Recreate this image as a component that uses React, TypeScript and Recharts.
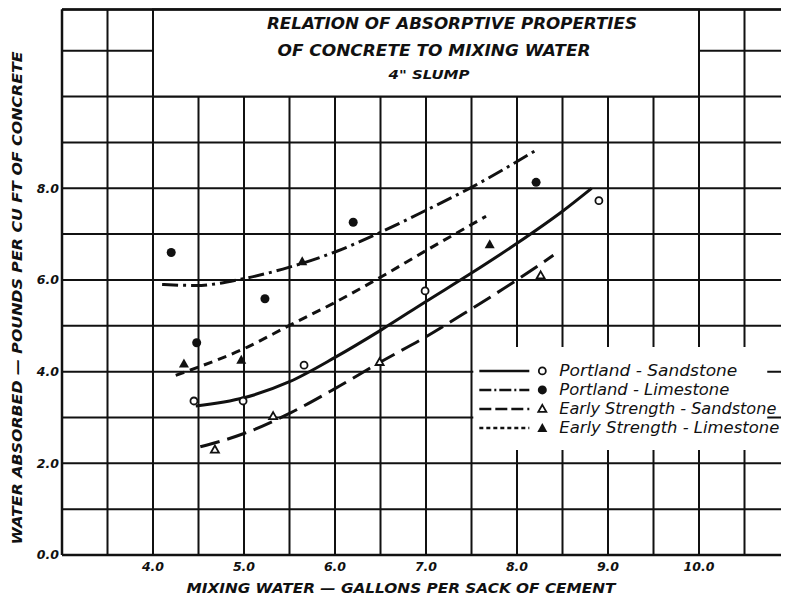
import {
  ComposedChart,
  Line,
  Scatter,
  XAxis,
  YAxis,
  CartesianGrid,
  ReferenceArea,
  Label,
} from "recharts";

// grid ticks (every 0.5 gal, every 1.0 lb)
const xTicks = [3, 3.5, 4, 4.5, 5, 5.5, 6, 6.5, 7, 7.5, 8, 8.5, 9, 9.5, 10, 10.5, 11];
const yTicks = [0, 1, 2, 3, 4, 5, 6, 7, 8, 9, 10, 11];
const xLabelled = [4, 5, 6, 7, 8, 9, 10];
const yLabelled = [0, 2, 4, 6, 8];
const yTop = 11.9; // sheet is trimmed just under the 12.0 line

// test points
const psWater = [4.45, 4.99, 5.66, 6.99, 8.9];
const psAbsorbed = [3.36, 3.36, 4.14, 5.76, 7.73];
const plWater = [4.2, 4.48, 5.23, 6.2, 8.21];
const plAbsorbed = [6.6, 4.63, 5.59, 7.26, 8.13];
const essWater = [4.68, 5.32, 6.49, 8.26];
const essAbsorbed = [2.3, 3.03, 4.21, 6.1];
const eslWater = [4.34, 4.97, 5.64, 7.7];
const eslAbsorbed = [4.18, 4.26, 6.41, 6.78];

// faired curves
const psCurveX = [4.47, 5.0, 5.5, 6.0, 6.5, 7.0, 7.5, 8.0, 8.5, 8.82];
const psCurveY = [3.25, 3.43, 3.78, 4.31, 4.9, 5.53, 6.15, 6.8, 7.5, 8.0];
const plCurveX = [4.1, 4.47, 5.0, 5.5, 6.0, 6.5, 7.0, 7.5, 8.2];
const plCurveY = [5.9, 5.88, 6.03, 6.28, 6.61, 7.04, 7.52, 8.02, 8.82];
const eslCurveX = [4.25, 4.5, 5.0, 5.5, 6.0, 6.5, 7.0, 7.66];
const eslCurveY = [3.92, 4.1, 4.5, 5.01, 5.51, 6.06, 6.64, 7.39];
const essCurveX = [4.52, 5.0, 5.5, 6.0, 6.5, 7.0, 7.5, 8.0, 8.4];
const essCurveY = [2.36, 2.65, 3.09, 3.63, 4.21, 4.76, 5.37, 6.0, 6.54];

const zip = (xs: number[], ys: number[]) => xs.map((x, i) => ({ x, y: ys[i] }));

const INK = "#111";
const LETTER = "'DejaVu Sans', sans-serif";

const styles = {
  ps: { dash: undefined as string | undefined, label: "Portland - Sandstone" },
  pl: { dash: "16 5 3 5", label: "Portland - Limestone" },
  ess: { dash: "20 8", label: "Early Strength - Sandstone" },
  esl: { dash: "9 6", label: "Early Strength - Limestone" },
};

// eslint-disable-next-line @typescript-eslint/no-explicit-any
const OpenCircle = (p: any) => (
  <circle cx={p.cx} cy={p.cy} r={3.5} fill="#fff" stroke={INK} strokeWidth={1.8} />
);
// eslint-disable-next-line @typescript-eslint/no-explicit-any
const DotFilled = (p: any) => <circle cx={p.cx} cy={p.cy} r={4.5} fill={INK} />;
// eslint-disable-next-line @typescript-eslint/no-explicit-any
const OpenTri = (p: any) => (
  <polygon
    points={`${p.cx},${p.cy - 4} ${p.cx + 4},${p.cy + 3} ${p.cx - 4},${p.cy + 3}`}
    fill="#fff"
    stroke={INK}
    strokeWidth={1.8}
  />
);
// eslint-disable-next-line @typescript-eslint/no-explicit-any
const FilledTri = (p: any) => (
  <polygon
    points={`${p.cx},${p.cy - 5} ${p.cx + 5},${p.cy + 4} ${p.cx - 5},${p.cy + 4}`}
    fill={INK}
  />
);

// eslint-disable-next-line @typescript-eslint/no-explicit-any
function TitleBlock(props: any) {
  const vb = props.viewBox || { x: 0, y: 0, width: 0, height: 0 };
  // box runs 4.0 to 10.0, so one unit is width / 6; frame top edge goes full width
  const unit = vb.width / 6;
  const common = {
    fill: INK,
    fontFamily: LETTER,
    fontWeight: 700,
    fontStyle: "italic" as const,
    textAnchor: "middle" as const,
    dominantBaseline: "central" as const,
    lengthAdjust: "spacingAndGlyphs" as const,
  };
  return (
    <g>
      <line
        x1={vb.x - unit}
        x2={vb.x + vb.width + unit}
        y1={vb.y}
        y2={vb.y}
        stroke={INK}
        strokeWidth={2.5}
      />
      <text {...common} x={452} y={23} fontSize={16} textLength={370}>
        RELATION OF ABSORPTIVE PROPERTIES
      </text>
      <text {...common} x={434} y={50} fontSize={16} textLength={313}>
        OF CONCRETE TO MIXING WATER
      </text>
      <text {...common} x={429} y={75} fontSize={12} textLength={81}>
        4" SLUMP
      </text>
    </g>
  );
}

// eslint-disable-next-line @typescript-eslint/no-explicit-any
function LegendBlock(props: any) {
  const vb = props.viewBox || { x: 0, y: 0 };
  const rows = [
    { key: "ps", marker: "oc", width: 178, dash: undefined },
    { key: "pl", marker: "fc", width: 170, dash: "12 3 2 3" },
    { key: "ess", marker: "ot", width: 217, dash: "12 4" },
    { key: "esl", marker: "ft", width: 220, dash: "4 3" },
  ] as const;
  const rowY = [24, 43, 62, 81];
  return (
    <g>
      {rows.map((r, i) => {
        const y = vb.y + rowY[i];
        const mx = vb.x + 69;
        return (
          <g key={r.key}>
            <line
              x1={vb.x + 6}
              x2={vb.x + 56}
              y1={y}
              y2={y}
              stroke={INK}
              strokeWidth={2.5}
              strokeDasharray={r.dash}
            />
            {r.marker === "oc" && <OpenCircle cx={mx} cy={y} />}
            {r.marker === "fc" && <DotFilled cx={mx} cy={y} />}
            {r.marker === "ot" && <OpenTri cx={mx} cy={y} />}
            {r.marker === "ft" && <FilledTri cx={mx} cy={y} />}
            <text
              x={vb.x + 86}
              y={y}
              fill={INK}
              fontFamily={LETTER}
              fontStyle="italic"
              fontSize={15}
              dominantBaseline="central"
              textLength={r.width}
              lengthAdjust="spacingAndGlyphs"
            >
              {styles[r.key].label}
            </text>
          </g>
        );
      })}
    </g>
  );
}

const tickStyle = {
  fill: INK,
  fontFamily: LETTER,
  fontWeight: 700,
  fontStyle: "italic",
  fontSize: 12.5,
};

export default function App() {
  return (
    <div style={{ margin: -8, width: 789, height: 602, overflow: "hidden", background: "#fff" }}>
      <ComposedChart width={790} height={602} margin={{ top: 9.5, right: 0, bottom: 0, left: 0 }}>
        <CartesianGrid stroke={INK} strokeWidth={2} />
        <XAxis
          type="number"
          dataKey="x"
          domain={[3, 11]}
          ticks={xTicks}
          interval={0}
          height={47}
          tickSize={0}
          tickMargin={7}
          axisLine={{ stroke: INK, strokeWidth: 2.5 }}
          tick={tickStyle}
          tickFormatter={(v: number) => (xLabelled.includes(v) ? v.toFixed(1) : "")}
        >
          <Label
            content={() => (
              <text
                x={401}
                y={588}
                fill={INK}
                fontFamily={LETTER}
                fontWeight={700}
                fontStyle="italic"
                fontSize={14}
                textAnchor="middle"
                dominantBaseline="central"
                textLength={429}
                lengthAdjust="spacingAndGlyphs"
              >
                MIXING WATER — GALLONS PER SACK OF CEMENT
              </text>
            )}
          />
        </XAxis>
        <YAxis
          type="number"
          dataKey="y"
          domain={[0, yTop]}
          ticks={yTicks}
          interval={0}
          width={62}
          tickSize={0}
          tickMargin={3}
          axisLine={{ stroke: INK, strokeWidth: 2.5 }}
          tick={tickStyle}
          tickFormatter={(v: number) => (yLabelled.includes(v) ? v.toFixed(1) : "")}
        >
          <Label
            content={() => (
              <text
                x={17}
                y={298}
                transform="rotate(-90, 17, 298)"
                fill={INK}
                fontFamily={LETTER}
                fontWeight={700}
                fontStyle="italic"
                fontSize={14}
                textAnchor="middle"
                dominantBaseline="central"
                textLength={493}
                lengthAdjust="spacingAndGlyphs"
              >
                WATER ABSORBED — POUNDS PER CU FT OF CONCRETE
              </text>
            )}
          />
        </YAxis>

        <ReferenceArea
          x1={4}
          x2={10}
          y1={10}
          y2={yTop}
          fill="#fff"
          fillOpacity={1}
          stroke={INK}
          strokeWidth={2}
          ifOverflow="visible"
          label={(p: unknown) => <TitleBlock {...(p as object)} />}
        />
        <ReferenceArea
          x1={7.52}
          x2={10.75}
          y1={2.29}
          y2={4.54}
          fill="#fff"
          fillOpacity={1}
          stroke="none"
          label={(p: unknown) => <LegendBlock {...(p as object)} />}
        />

        <Line
          data={zip(psCurveX, psCurveY)}
          dataKey="y"
          type="monotone"
          stroke={INK}
          strokeWidth={3}
          dot={false}
          activeDot={false}
          isAnimationActive={false}
        />
        <Line
          data={zip(plCurveX, plCurveY)}
          dataKey="y"
          type="monotone"
          stroke={INK}
          strokeWidth={3}
          strokeDasharray={styles.pl.dash}
          dot={false}
          activeDot={false}
          isAnimationActive={false}
        />
        <Line
          data={zip(essCurveX, essCurveY)}
          dataKey="y"
          type="monotone"
          stroke={INK}
          strokeWidth={3}
          strokeDasharray={styles.ess.dash}
          dot={false}
          activeDot={false}
          isAnimationActive={false}
        />
        <Line
          data={zip(eslCurveX, eslCurveY)}
          dataKey="y"
          type="monotone"
          stroke={INK}
          strokeWidth={3}
          strokeDasharray={styles.esl.dash}
          dot={false}
          activeDot={false}
          isAnimationActive={false}
        />

        <Scatter data={zip(psWater, psAbsorbed)} shape={OpenCircle} isAnimationActive={false} />
        <Scatter data={zip(plWater, plAbsorbed)} shape={DotFilled} isAnimationActive={false} />
        <Scatter data={zip(essWater, essAbsorbed)} shape={OpenTri} isAnimationActive={false} />
        <Scatter data={zip(eslWater, eslAbsorbed)} shape={FilledTri} isAnimationActive={false} />
      </ComposedChart>
    </div>
  );
}
